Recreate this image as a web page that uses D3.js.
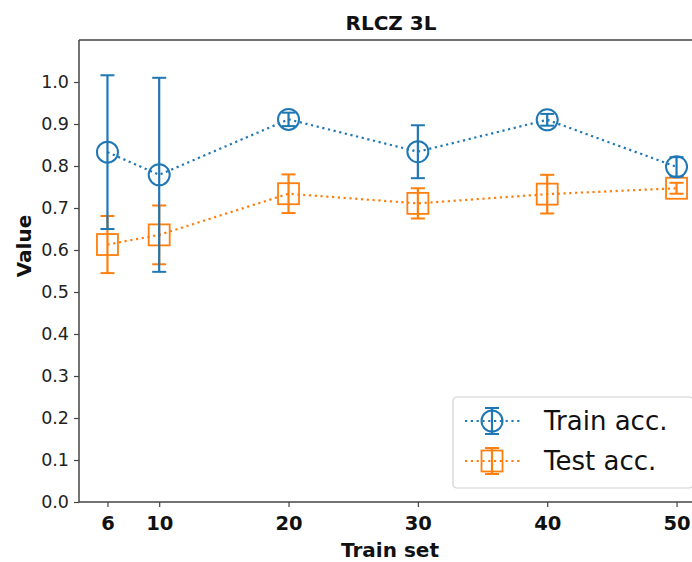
<!DOCTYPE html>
<html>
<head>
<meta charset="utf-8">
<script src="https://cdn.jsdelivr.net/npm/d3@7"></script>
<style>
  html, body { margin: 0; padding: 0; background: #fff; }
  svg { display: block; font-family: "DejaVu Sans", sans-serif; }
</style>
</head>
<body>
<svg id="chart" width="692" height="562"></svg>
<script>
// Training-set sizes on the x axis
const trainSizes = [6, 10, 20, 30, 40, 50];
// Mean accuracy and spread per training-set size
const trainAcc = [0.833, 0.779, 0.911, 0.834, 0.910, 0.798];
const trainErr = [0.183, 0.231, 0.016, 0.063, 0.014, 0.023];
const testAcc = [0.613, 0.636, 0.734, 0.711, 0.733, 0.747];
const testErr = [0.068, 0.070, 0.046, 0.036, 0.046, 0.013];
const yTicks = [0.0, 0.1, 0.2, 0.3, 0.4, 0.5, 0.6, 0.7, 0.8, 0.9, 1.0];
const seriesNames = ["Train acc.", "Test acc."];

const svg = d3.select("#chart");
const plotLeft = 79, plotTop = 40, plotRight = 705, plotBottom = 502;

const x = d3.scaleLinear().domain([3.8, 52.2]).range([plotLeft, plotRight]);
const y = d3.scaleLinear().domain([0, 1.1]).range([plotBottom, plotTop]);

const blue = "#1f77b4", orange = "#ff7f0e";

// axes
const xAxis = svg.append("g").attr("transform", `translate(0,${plotBottom})`)
  .call(d3.axisBottom(x).tickValues(trainSizes).tickSize(5).tickPadding(9).tickFormat(d3.format("d")));
xAxis.selectAll("text").attr("font-size", 19.5).attr("font-weight", "bold").attr("fill", "#111")
  .attr("font-family", "DejaVu Sans");
const yAxis = svg.append("g").attr("transform", `translate(${plotLeft},0)`)
  .call(d3.axisLeft(y).tickValues(yTicks).tickSize(5).tickPadding(5).tickFormat(d3.format(".1f")));
yAxis.selectAll("text").attr("font-size", 17.5).attr("fill", "#222").attr("font-family", "DejaVu Sans");
[xAxis, yAxis].forEach(a => {
  a.select(".domain").remove();
  a.selectAll(".tick line").attr("stroke", "#444").attr("stroke-width", 1.2);
});

// spines
svg.append("line").attr("x1", plotLeft).attr("x2", plotLeft).attr("y1", plotTop).attr("y2", plotBottom)
  .attr("stroke", "#444").attr("stroke-width", 1.5);
svg.append("line").attr("x1", plotLeft).attr("x2", plotRight).attr("y1", plotBottom).attr("y2", plotBottom)
  .attr("stroke", "#444").attr("stroke-width", 1.5);
svg.append("line").attr("x1", plotLeft).attr("x2", plotRight).attr("y1", plotTop).attr("y2", plotTop)
  .attr("stroke", "#444").attr("stroke-width", 1.5);

// titles
svg.append("text").attr("x", 391).attr("y", 30).attr("text-anchor", "middle")
  .attr("font-size", 20).attr("font-weight", "bold").attr("fill", "#111").text("RLCZ 3L");
svg.append("text").attr("x", 390).attr("y", 557).attr("text-anchor", "middle")
  .attr("font-size", 20).attr("font-weight", "bold").attr("fill", "#111").text("Train set");
svg.append("text").attr("transform", "translate(31,246) rotate(-90)").attr("text-anchor", "middle")
  .attr("font-size", 20).attr("font-weight", "bold").attr("fill", "#111").text("Value");

const line = d3.line().x(d => x(d[0])).y(d => y(d[1]));

function drawSeries(vals, errs, color, shape) {
  const pts = trainSizes.map((s, i) => [s, vals[i], errs[i]]);
  const g = svg.append("g");
  g.append("path").datum(pts).attr("d", line).attr("fill", "none")
    .attr("stroke", color).attr("stroke-width", 2.2).attr("stroke-dasharray", "2.2,3.6");
  const eb = g.selectAll(".eb").data(pts).enter().append("g");
  eb.append("line").attr("x1", d => x(d[0])).attr("x2", d => x(d[0]))
    .attr("y1", d => y(d[1] - d[2])).attr("y2", d => y(d[1] + d[2]))
    .attr("stroke", color).attr("stroke-width", 2.2);
  [-1, 1].forEach(sgn => {
    eb.append("line").attr("x1", d => x(d[0]) - 7).attr("x2", d => x(d[0]) + 7)
      .attr("y1", d => y(d[1] + sgn * d[2])).attr("y2", d => y(d[1] + sgn * d[2]))
      .attr("stroke", color).attr("stroke-width", 2);
  });
  if (shape === "circle") {
    eb.append("circle").attr("cx", d => x(d[0])).attr("cy", d => y(d[1])).attr("r", 10.5)
      .attr("fill", "none").attr("stroke", color).attr("stroke-width", 2);
  } else {
    eb.append("rect").attr("x", d => x(d[0]) - 10.5).attr("y", d => y(d[1]) - 10.5)
      .attr("width", 21).attr("height", 21)
      .attr("fill", "none").attr("stroke", color).attr("stroke-width", 1.8);
  }
}
drawSeries(testAcc, testErr, orange, "square");
drawSeries(trainAcc, trainErr, blue, "circle");

// legend
const lg = svg.append("g");
lg.append("rect").attr("x", 453).attr("y", 397).attr("width", 240).attr("height", 91).attr("rx", 4)
  .attr("fill", "#fff").attr("fill-opacity", 0.85).attr("stroke", "#d0d0d0").attr("stroke-width", 1.2);
[[seriesNames[0], blue, "circle", 421], [seriesNames[1], orange, "square", 461]].forEach(([name, c, shape, cy]) => {
  const cx = 492;
  lg.append("line").attr("x1", 465).attr("x2", 520).attr("y1", cy).attr("y2", cy)
    .attr("stroke", c).attr("stroke-width", 2.2).attr("stroke-dasharray", "2.2,3.6");
  lg.append("line").attr("x1", cx).attr("x2", cx).attr("y1", cy - 13).attr("y2", cy + 13)
    .attr("stroke", c).attr("stroke-width", 2.2);
  [-13, 13].forEach(o => lg.append("line").attr("x1", cx - 7).attr("x2", cx + 7)
    .attr("y1", cy + o).attr("y2", cy + o).attr("stroke", c).attr("stroke-width", 2));
  if (shape === "circle") {
    lg.append("circle").attr("cx", cx).attr("cy", cy).attr("r", 10.5)
      .attr("fill", "none").attr("stroke", c).attr("stroke-width", 2);
  } else {
    lg.append("rect").attr("x", cx - 10.5).attr("y", cy - 10.5).attr("width", 21).attr("height", 21)
      .attr("fill", "none").attr("stroke", c).attr("stroke-width", 1.8);
  }
  lg.append("text").attr("x", 544).attr("y", cy + 9).attr("font-size", 26).attr("fill", "#111").text(name);
});
</script>
</body>
</html>
